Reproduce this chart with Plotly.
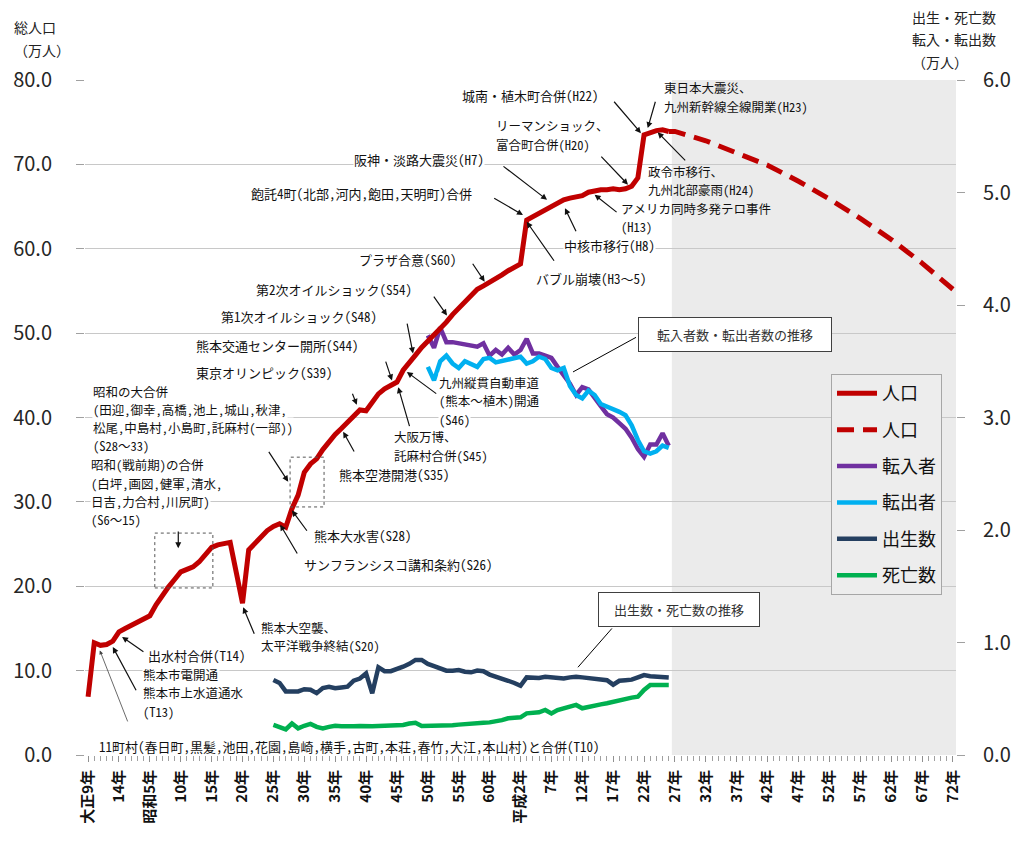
import plotly.graph_objects as go

# ---------------- data ----------------
pop_years = list(range(1920, 2015))
pop = [6.9, 13.3, 13.0, 13.1, 13.5, 14.6, 15.0, 15.4, 15.8, 16.1,
       16.5, 17.8, 18.9, 19.9, 20.8, 21.7, 22.0, 22.3, 22.9, 23.8,
       24.6, 24.9, 25.1, 25.2, 21.6, 18.0, 24.3, 25.1, 25.8, 26.6,
       27.1, 27.4, 27.0, 29.2, 30.8, 33.5, 34.5, 35.1, 36.2, 37.2,
       38.0, 38.7, 39.5, 40.3, 40.9, 40.8, 41.8, 42.8, 43.4, 43.8,
       44.2, 45.6, 46.6, 47.4, 48.3, 49.0, 49.7, 50.4, 51.3, 52.2,
       53.0, 53.8, 54.6, 55.2, 55.6, 56.0, 56.4, 56.9, 57.4, 57.8,
       58.2, 63.4, 63.8, 64.3, 64.6, 65.1, 65.5, 65.8, 66.0, 66.2,
       66.3, 66.7, 66.9, 67.0, 67.0, 67.1, 67.0, 67.1, 67.4, 68.4,
       73.5, 73.8, 74.0, 74.1, 73.9]

proj_years = [2015, 2020, 2025, 2030, 2035, 2040, 2045, 2050, 2055, 2060]
proj = [73.9, 72.8, 71.3, 69.9, 68.0, 65.9, 63.6, 61.1, 58.3, 55.2]

mig_years = list(range(1975, 2015))
mig_in = [3.73, 3.62, 3.80, 3.67, 3.67, 3.66, 3.64, 3.64, 3.63, 3.66,
          3.55, 3.60, 3.56, 3.62, 3.56, 3.60, 3.70, 3.57, 3.57, 3.55,
          3.53, 3.45, 3.38, 3.30, 3.20, 3.27, 3.25, 3.17, 3.10, 3.03,
          3.00, 2.95, 2.90, 2.82, 2.72, 2.65, 2.76, 2.76, 2.86, 2.75]
mig_out = [3.45, 3.33, 3.50, 3.55, 3.48, 3.44, 3.50, 3.48, 3.45, 3.52,
           3.53, 3.49, 3.50, 3.51, 3.53, 3.54, 3.48, 3.50, 3.54, 3.52,
           3.44, 3.42, 3.44, 3.28, 3.20, 3.17, 3.24, 3.20, 3.12, 3.10,
           3.07, 3.05, 3.02, 2.93, 2.80, 2.70, 2.68, 2.70, 2.75, 2.73]

vital_years = list(range(1950, 2015))
births = [0.667, 0.640, 0.565, 0.565, 0.565, 0.585, 0.580, 0.550, 0.595, 0.607,
          0.593, 0.600, 0.607, 0.660, 0.680, 0.725, 0.548, 0.780, 0.745, 0.745,
          0.760, 0.785, 0.810, 0.845, 0.845, 0.810, 0.790, 0.770, 0.750, 0.750,
          0.755, 0.740, 0.735, 0.750, 0.745, 0.715, 0.700, 0.680, 0.660, 0.640,
          0.615, 0.690, 0.690, 0.685, 0.695, 0.690, 0.685, 0.680, 0.690, 0.695,
          0.690, 0.685, 0.680, 0.675, 0.665, 0.625, 0.660, 0.665, 0.670, 0.690,
          0.710, 0.700, 0.695, 0.700, 0.690]
deaths = [0.267, 0.250, 0.228, 0.280, 0.237, 0.260, 0.276, 0.250, 0.237, 0.250,
          0.260, 0.255, 0.252, 0.255, 0.258, 0.252, 0.255, 0.258, 0.260, 0.262,
          0.265, 0.267, 0.280, 0.287, 0.258, 0.258, 0.258, 0.260, 0.260, 0.265,
          0.270, 0.276, 0.278, 0.285, 0.287, 0.290, 0.296, 0.310, 0.326, 0.330,
          0.335, 0.370, 0.376, 0.380, 0.400, 0.370, 0.400, 0.415, 0.425, 0.445,
          0.415, 0.430, 0.444, 0.450, 0.460, 0.475, 0.490, 0.500, 0.510, 0.518,
          0.578, 0.622, 0.625, 0.625, 0.622]

tick_years = list(range(1920, 2061, 5))
tick_labels = ["大正9年", "14年", "昭和5年", "10年", "15年", "20年", "25年", "30年",
               "35年", "40年", "45年", "50年", "55年", "60年", "平成2年", "7年",
               "12年", "17年", "22年", "27年", "32年", "37年", "42年", "47年",
               "52年", "57年", "62年", "67年", "72年"]

series_names = ["人口", "人口", "転入者", "転出者", "出生数", "死亡数"]

# ---------------- annotations: lines, left x, y of each line (data units), white bg ----------------
notes = [
    (["城南・植木町合併(H22)"], 1980.4, [78.2], True),
    (["東日本大震災、", "九州新幹線全線開業(H23)"], 2013.0, [79.06, 76.91], False),
    (["リーマンショック、", "富合町合併(H20)"], 1985.9, [74.55, 72.39], True),
    (["阪神・淡路大震災(H7)"], 1962.9, [70.6], True),
    (["飽託4町(北部,河内,飽田,天明町)合併"], 1946.2, [66.6], True),
    (["政令市移行、", "九州北部豪雨(H24)"], 2010.5, [69.16, 67.00], False),
    (["アメリカ同時多発テロ事件", "(H13)"], 2006.1, [64.83, 62.67], False),
    (["中核市移行(H8)"], 1996.9, [60.4], True),
    (["バブル崩壊(H3〜5)"], 1992.3, [56.5], True),
    (["プラザ合意(S60)"], 1963.7, [58.7], True),
    (["第2次オイルショック(S54)"], 1947.0, [55.2], True),
    (["第1次オイルショック(S48)"], 1941.4, [52.0], True),
    (["熊本交通センター開所(S44)"], 1937.3, [48.59], True),
    (["東京オリンピック(S39)"], 1937.3, [45.39], True),
    (["昭和の大合併", "(田迎,御幸,高橋,池上,城山,秋津,", "松尾,中島村,小島町,託麻村(一部))", "(S28〜33)"],
     1920.6, [43.13, 40.97, 38.81, 36.66], True),
    (["昭和(戦前期)の合併", "(白坪,画図,健軍,清水,", "日吉,力合村,川尻町)", "(S6〜15)"],
     1920.3, [34.38, 32.23, 30.07, 27.91], True),
    (["熊本空港開港(S35)"], 1960.5, [33.30], True),
    (["大阪万博、", "託麻村合併(S45)"], 1969.4, [37.69, 35.53], True),
    (["九州縦貫自動車道", "(熊本〜植木)開通", "(S46)"], 1976.6, [44.12, 41.97, 39.82], True),
    (["熊本大水害(S28)"], 1956.4, [26.0], True),
    (["サンフランシスコ講和条約(S26)"], 1954.8, [22.6], True),
    (["熊本大空襲、", "太平洋戦争終結(S20)"], 1947.8, [15.17, 13.01], True),
    (["出水村合併(T14)"], 1929.5, [11.85], True),
    (["熊本市電開通", "熊本市上水道通水", "(T13)"], 1928.7, [9.51, 7.35, 5.19], True),
    (["11町村(春日町,黒髪,池田,花園,島崎,横手,古町,本荘,春竹,大江,本山村)と合併(T10)"],
     1921.6, [0.95], False),
]

# arrows: tail (x, y) -> head (x, y)
arrows = [
    (2004.95, 77.6, 2009.5, 73.7),
    (2011.9, 77.6, 2010.6, 74.3),
    (2002.85, 71.1, 2007.4, 67.6),
    (1987.0, 69.9, 1994.3, 65.8),
    (1985.5, 66.1, 1990.4, 64.0),
    (2016.9, 70.3, 2012.2, 73.8),
    (2005.8, 64.2, 2002.0, 66.4),
    (1999.1, 61.9, 1997.2, 64.8),
    (1995.6, 58.4, 1991.0, 63.2),
    (1982.1, 58.4, 1984.2, 56.1),
    (1975.8, 54.5, 1978.1, 52.1),
    (1971.6, 51.3, 1972.6, 47.6),
    (1968.1, 46.8, 1969.2, 44.4),
    (1962.7, 43.0, 1963.5, 41.5),
    (1949.1, 36.1, 1952.4, 32.4),
    (1934.6, 26.67, 1934.6, 24.5),
    (1963.2, 35.8, 1961.3, 38.3),
    (1972.1, 38.8, 1970.2, 43.6),
    (1976.6, 42.7, 1971.6, 45.4),
    (1955.6, 26.4, 1953.0, 29.0),
    (1954.0, 23.7, 1951.1, 27.3),
    (1947.0, 14.2, 1945.1, 17.5),
    (1929.2, 12.1, 1925.5, 14.0),
    (1927.9, 7.5, 1924.0, 12.8),
]
thin_arrow = (1926.5, 3.8, 1921.9, 12.4)

ANN_FONT = "Noto Sans Mono CJK JP, Noto Sans CJK JP, sans-serif"
BASE_FONT = "Noto Sans CJK JP, sans-serif"

fig = go.Figure()

fig.add_trace(go.Scatter(x=pop_years, y=pop, name=series_names[0], zorder=5,
                         mode="lines", line=dict(color="#C00000", width=5)))
fig.add_trace(go.Scatter(x=[pop_years[-1]] + proj_years, y=[pop[-1]] + proj, name=series_names[1],
                         zorder=5, mode="lines",
                         line=dict(color="#C00000", width=5, dash="17px,9px")))
fig.add_trace(go.Scatter(x=mig_years, y=mig_in, name=series_names[2], yaxis="y2", zorder=1,
                         mode="lines", line=dict(color="#7030A0", width=4.5)))
fig.add_trace(go.Scatter(x=mig_years, y=mig_out, name=series_names[3], yaxis="y2", zorder=2,
                         mode="lines", line=dict(color="#00B0F0", width=4.5)))
fig.add_trace(go.Scatter(x=vital_years, y=births, name=series_names[4], yaxis="y2", zorder=1,
                         mode="lines", line=dict(color="#243F60", width=4.5)))
fig.add_trace(go.Scatter(x=vital_years, y=deaths, name=series_names[5], yaxis="y2", zorder=1,
                         mode="lines", line=dict(color="#00B050", width=4.5)))

for i, tr in enumerate(fig.data):
    tr.legendgroup = "g%d" % i
    tr.hoverinfo = "skip"

# shaded projection region
fig.add_shape(type="rect", xref="x", yref="paper", x0=2014.5, x1=2060.5, y0=0, y1=1,
              fillcolor="#EBEBEB", line=dict(width=0), layer="below")
# dotted boxes
fig.add_shape(type="rect", xref="x", yref="y", x0=1930.8, x1=1940.2, y0=19.8, y1=26.3,
              line=dict(color="#555555", width=1, dash="dot"))
fig.add_shape(type="rect", xref="x", yref="y", x0=1952.7, x1=1958.2, y0=29.4, y1=35.3,
              line=dict(color="#555555", width=1, dash="dot"))
# callout leader lines
fig.add_shape(type="line", xref="x", yref="y", x0=2008.7, y0=49.5, x1=1998.5, y1=45.4,
              line=dict(color="#000000", width=1))
fig.add_shape(type="line", xref="x", yref="y", x0=2004.8, y0=15.0, x1=1999.3, y1=10.4,
              line=dict(color="#000000", width=1))

for lines, x, ys, bg in notes:
    size = 13 if len(lines) == 1 else 12.5
    for line, y in zip(lines, ys):
        fig.add_annotation(x=x, y=y, xref="x", yref="y", text=line, showarrow=False,
                           xanchor="left", yanchor="middle", align="left", borderpad=0,
                           bgcolor="white" if bg else "rgba(0,0,0,0)",
                           font=dict(family=ANN_FONT, size=size, color="#111111"))

for tx, ty, hx, hy in arrows:
    fig.add_annotation(x=hx, y=hy, ax=tx, ay=ty, xref="x", yref="y", axref="x", ayref="y",
                       text="", showarrow=True, arrowhead=2, arrowsize=1, arrowwidth=1.2,
                       arrowcolor="#111111")
tx, ty, hx, hy = thin_arrow
fig.add_annotation(x=hx, y=hy, ax=tx, ay=ty, xref="x", yref="y", axref="x", ayref="y",
                   text="", showarrow=True, arrowhead=2, arrowsize=1, arrowwidth=0.8,
                   arrowcolor="#444444")

# callout boxes
fig.add_annotation(x=2024.7, y=49.84, xref="x", yref="y", text="転入者数・転出者数の推移",
                   showarrow=False, width=190, height=31, borderpad=1, borderwidth=1,
                   bordercolor="#404040", bgcolor="white",
                   font=dict(family=ANN_FONT, size=13, color="#333333"))
fig.add_annotation(x=2015.6, y=17.24, xref="x", yref="y", text="出生数・死亡数の推移",
                   showarrow=False, width=158, height=31, borderpad=1, borderwidth=1,
                   bordercolor="#404040", bgcolor="white",
                   font=dict(family=ANN_FONT, size=13, color="#333333"))

# axis titles
for txt, yy in [("総人口", 1.0785), ("（万人）", 1.0444)]:
    fig.add_annotation(x=-0.0838, y=yy, xref="paper", yref="paper", text=txt, showarrow=False,
                       xanchor="left", yanchor="middle",
                       font=dict(family=BASE_FONT, size=14, color="#222222"))
for txt, yy in [("出生・死亡数", 1.0933), ("転入・転出数", 1.0607), ("（万人）", 1.0267)]:
    fig.add_annotation(x=0.9472, y=yy, xref="paper", yref="paper", text=txt, showarrow=False,
                       xanchor="left", yanchor="middle",
                       font=dict(family=BASE_FONT, size=14, color="#222222"))

fig.update_layout(
    width=1014, height=842, autosize=False,
    margin=dict(l=85, r=58, t=80, b=87, autoexpand=False),
    plot_bgcolor="white", paper_bgcolor="white",
    font=dict(family=BASE_FONT, color="#222222"),
    hovermode=False,
    xaxis=dict(range=[1919.5, 2060.5], tickmode="array", tickvals=tick_years,
               ticktext=tick_labels, tickangle=-90, automargin=False,
               tickfont=dict(family=BASE_FONT, size=15, color="#111111", weight="bold"),
               ticks="outside", ticklen=6, tickcolor="#909090", showgrid=False,
               showline=True, linecolor="#A0A0A0", linewidth=1, zeroline=False,
               minor=dict(dtick=1, tick0=1920, ticks="outside", ticklen=5, tickcolor="#A0A0A0"),
               ticklabelstandoff=2),
    yaxis=dict(range=[0, 80], dtick=10, tickformat=".1f", showgrid=True, gridcolor="#C8C8C8",
               gridwidth=1, showline=True, linecolor="#A0A0A0", zeroline=False,
               ticks="outside", ticklen=8, tickcolor="#A0A0A0", automargin=False,
               tickfont=dict(family=BASE_FONT, size=20, color="#262626"),
               ticklabelstandoff=20),
    yaxis2=dict(range=[0, 6], dtick=1, tickformat=".1f", overlaying="y", side="right",
                showgrid=False, showline=True, linecolor="#A0A0A0", zeroline=False,
                ticks="outside", ticklen=8, tickcolor="#A0A0A0", automargin=False,
                tickfont=dict(family=BASE_FONT, size=20, color="#262626"),
                ticklabelstandoff=14),
    legend=dict(x=0.8565, y=0.5644, xanchor="left", yanchor="top",
                bgcolor="#EDEDED", bordercolor="#A6A6A6", borderwidth=1,
                font=dict(family=BASE_FONT, size=18, color="#111111"),
                traceorder="grouped", tracegroupgap=10, itemwidth=40),
    showlegend=True,
)

fig.write_html(
    "out.html",
    config={"displayModeBar": False},
    post_script=("document.documentElement.style.overflow='hidden';"
                 "document.body.style.margin='0';"
                 "document.body.style.overflow='hidden';"
                 "window.scrollTo(0,0);"),
)
